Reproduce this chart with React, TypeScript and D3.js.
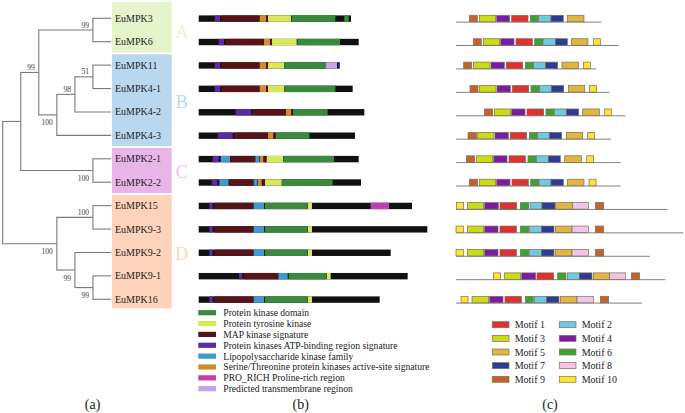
import React from 'react';
import * as d3 from 'd3';

const W = 685;
const H = 413;
const FONT = "'Liberation Serif', 'Times New Roman', Times, serif";

// ---------- data ----------
const genes = ['EuMPK3', 'EuMPK6', 'EuMPK11', 'EuMPK4-1', 'EuMPK4-2', 'EuMPK4-3', 'EuMPK2-1', 'EuMPK2-2', 'EuMPK15', 'EuMPK9-3', 'EuMPK9-2', 'EuMPK9-1', 'EuMPK16'];

// tree: flat node table (h = node depth level, s = bootstrap support)
const treeNodes = [
  { id: 'root', parent: null, h: 0 },
  { id: 'ABC', parent: 'root', h: 1 },
  { id: 'AB', parent: 'ABC', h: 2, s: 99, pos: 'above' },
  { id: 'nA', parent: 'AB', h: 5, s: 99, pos: 'above' },
  { id: 'EuMPK3', parent: 'nA', h: 6 },
  { id: 'EuMPK6', parent: 'nA', h: 6 },
  { id: 'nB', parent: 'AB', h: 3, s: 100, pos: 'below' },
  { id: 'nB1', parent: 'nB', h: 4, s: 98, pos: 'above' },
  { id: 'nB2', parent: 'nB1', h: 5, s: 51, pos: 'above' },
  { id: 'EuMPK11', parent: 'nB2', h: 6 },
  { id: 'EuMPK4-1', parent: 'nB2', h: 6 },
  { id: 'EuMPK4-2', parent: 'nB1', h: 6 },
  { id: 'EuMPK4-3', parent: 'nB', h: 6 },
  { id: 'nC', parent: 'ABC', h: 5, s: 100, pos: 'below' },
  { id: 'EuMPK2-1', parent: 'nC', h: 6 },
  { id: 'EuMPK2-2', parent: 'nC', h: 6 },
  { id: 'nD', parent: 'root', h: 3, s: 100, pos: 'below' },
  { id: 'nD1', parent: 'nD', h: 5, s: 100, pos: 'above' },
  { id: 'EuMPK15', parent: 'nD1', h: 6 },
  { id: 'EuMPK9-3', parent: 'nD1', h: 6 },
  { id: 'nD2', parent: 'nD', h: 4, s: 99, pos: 'below' },
  { id: 'EuMPK9-2', parent: 'nD2', h: 6 },
  { id: 'nD3', parent: 'nD2', h: 5, s: 99, pos: 'below' },
  { id: 'EuMPK9-1', parent: 'nD3', h: 6 },
  { id: 'EuMPK16', parent: 'nD3', h: 6 },
];

const groupNames = ['A', 'B', 'C', 'D'];
const groupFirst = [0, 2, 6, 8];
const groupLast = [1, 5, 7, 12];

// protein domains (b)
const proteinLength = [457, 480, 423, 462, 497, 469, 480, 487, 640, 686, 576, 627, 543];
const proteinDomains: [string, number, number][][] = [
  [['ATP', 48, 64], ['MAP', 68, 182], ['ST', 183, 202], ['MAP', 202, 207], ['PTK', 208, 277], ['PK', 279, 410], ['PK', 437, 450]],
  [['ATP', 60, 76], ['MAP', 81, 195], ['ST', 196, 214], ['MAP', 214, 219], ['PTK', 220, 294], ['PK', 296, 424]],
  [['ATP', 48, 64], ['MAP', 68, 182], ['ST', 183, 202], ['MAP', 202, 207], ['PTK', 208, 257], ['PK', 259, 382], ['TM', 382, 415], ['ATP', 419, 423]],
  [['ATP', 48, 64], ['MAP', 68, 182], ['ST', 183, 202], ['MAP', 202, 207], ['PTK', 208, 257], ['PK', 259, 410]],
  [['ATP', 111, 157], ['MAP', 160, 262], ['ST', 262, 277], ['MAP', 277, 281], ['PK', 283, 387]],
  [['ATP', 57, 102], ['MAP', 106, 207], ['ST', 208, 224], ['MAP', 224, 229], ['PK', 231, 332]],
  [['ATP', 42, 60], ['LPS', 66, 94], ['MAP', 94, 170], ['LPS', 170, 181], ['ST', 183, 194], ['MAP', 196, 202], ['PTK', 204, 253], ['PK', 254, 406]],
  [['ATP', 39, 56], ['LPS', 62, 90], ['MAP', 90, 165], ['LPS', 165, 176], ['ST', 178, 189], ['MAP', 192, 198], ['PTK', 199, 249], ['PK', 250, 402]],
  [['ATP', 32, 42], ['MAP', 47, 165], ['LPS', 165, 196], ['PK', 199, 325], ['PTK', 327, 340], ['PRO', 516, 571]],
  [['ATP', 32, 42], ['MAP', 47, 165], ['LPS', 165, 196], ['PK', 199, 325], ['PTK', 327, 340]],
  [['ATP', 32, 42], ['MAP', 47, 165], ['LPS', 165, 196], ['PK', 199, 325], ['PTK', 327, 340]],
  [['ATP', 121, 131], ['MAP', 135, 239], ['LPS', 239, 267], ['PK', 270, 382], ['PTK', 384, 396]],
  [['ATP', 32, 42], ['MAP', 47, 165], ['LPS', 165, 196], ['PK', 199, 325], ['PTK', 327, 340]],
];
const domainKeys = ['PK', 'PTK', 'MAP', 'ATP', 'LPS', 'ST', 'PRO', 'TM'];
const domainLabels = [
  'Protein kinase domain',
  'Protein tyrosine kinase',
  'MAP kinase signature',
  'Protein kinases ATP-binding region signature',
  'Lipopolysaccharide kinase family',
  'Serine/Threonine protein kinases active-site signature',
  'PRO_RICH Proline-rich region',
  'Predicted transmembrane reginon',
];

// conserved motifs (c)
const motifLineLength = [436, 488, 421, 461, 508, 465, 494, 494, 634, 682, 582, 628, 558];
const motifs: [number, number, number][][] = [
  [[9, 40, 64], [3, 70, 119], [4, 122, 161], [1, 167, 216], [6, 223, 248], [2, 248, 285], [7, 285, 322], [5, 334, 384]],
  [[9, 52, 76], [3, 82, 131], [4, 134, 174], [1, 180, 229], [6, 236, 261], [2, 261, 298], [7, 298, 334], [5, 346, 396], [10, 412, 433]],
  [[9, 23, 47], [3, 52, 102], [4, 105, 145], [1, 151, 200], [6, 208, 233], [2, 233, 269], [7, 269, 305], [5, 318, 367], [10, 382, 403]],
  [[9, 42, 66], [3, 71, 120], [4, 123, 163], [1, 169, 218], [6, 225, 250], [2, 250, 286], [7, 286, 323], [5, 337, 386], [10, 400, 421]],
  [[9, 85, 110], [3, 115, 164], [4, 167, 207], [1, 213, 263], [6, 270, 295], [2, 295, 331], [7, 331, 368], [5, 380, 430], [10, 445, 466]],
  [[9, 36, 61], [3, 65, 114], [4, 117, 157], [1, 163, 212], [6, 220, 244], [2, 244, 280], [7, 280, 317], [5, 331, 380], [10, 395, 415]],
  [[9, 31, 56], [3, 61, 110], [4, 113, 153], [1, 159, 208], [6, 216, 241], [2, 241, 277], [7, 277, 313], [5, 326, 376], [10, 392, 413]],
  [[9, 40, 65], [3, 70, 119], [4, 122, 162], [1, 168, 217], [6, 224, 249], [2, 249, 285], [7, 285, 322], [5, 334, 384], [10, 399, 420]],
  [[10, 1, 23], [3, 34, 83], [4, 86, 127], [1, 132, 182], [6, 193, 218], [2, 222, 258], [7, 258, 297], [5, 299, 349], [8, 349, 397], [9, 418, 443]],
  [[10, 0, 22], [3, 34, 83], [4, 86, 126], [1, 132, 181], [6, 193, 218], [2, 220, 257], [7, 257, 294], [5, 298, 348], [8, 348, 397], [9, 418, 443]],
  [[10, 0, 22], [3, 34, 83], [4, 86, 126], [1, 132, 181], [6, 193, 218], [2, 220, 257], [7, 257, 294], [5, 298, 348], [8, 348, 397], [9, 418, 443]],
  [[10, 112, 134], [3, 145, 194], [4, 197, 239], [1, 243, 293], [6, 305, 330], [2, 334, 370], [7, 370, 408], [5, 412, 461], [8, 461, 509], [9, 526, 551]],
  [[10, 15, 36], [3, 48, 98], [4, 101, 141], [1, 147, 196], [6, 208, 232], [2, 235, 272], [7, 272, 309], [5, 313, 363], [8, 363, 412], [9, 433, 458]],
];
const motifNumbers = [1, 2, 3, 4, 5, 6, 7, 8, 9, 10];

// ---------- styles ----------
const groupFill: Record<string, string> = { A: '#e4f4cb', B: '#b9d8f0', C: '#e9b5e9', D: '#fdd4ba' };
const groupText: Record<string, string> = { A: '#e6f4cf', B: '#bcd8ef', C: '#f0c0ec', D: '#fdd6c0' };
const domainColor: Record<string, string> = {
  PK: '#3a8a3e', PTK: '#d8e85a', MAP: '#561417', ATP: '#5a2aa8',
  LPS: '#3c9bd2', ST: '#d98a2a', PRO: '#c23cb4', TM: '#c9a4e8',
};
const motifColor: Record<number, string> = {
  1: '#e03030', 2: '#6ccbe4', 3: '#cadc14', 4: '#7a1aa6', 5: '#e2b440',
  6: '#3aa432', 7: '#2c3a98', 8: '#f2c4ea', 9: '#c4622a', 10: '#ffe234',
};
const txt = { fontFamily: FONT };

export default function App() {
  const y = d3.scaleLinear().domain([0, genes.length - 1]).range([18.3, 299.3]);
  const xTree = d3.scaleLinear().domain([0, 6]).range([2.7, 111]);
  const xDom = d3.scaleLinear().domain([0, 700]).range([198.7, 432]);
  const xMot = d3.scaleLinear().domain([0, 690]).range([456, 686]);

  const root = d3.stratify<any>().id((d: any) => d.id).parentId((d: any) => d.parent)(treeNodes);
  root.eachAfter((n: any) => {
    if (n.children) {
      n.py = (n.children[0].py + n.children[n.children.length - 1].py) / 2;
    } else {
      n.py = y(genes.indexOf(n.id));
    }
    n.px = xTree(n.data.h);
  });

  const treeLines: any[] = [];
  const supportLabels: any[] = [];
  root.each((n: any) => {
    if (n.parent) {
      treeLines.push(<line key={'h' + n.id} x1={n.parent.px} x2={n.px} y1={n.py} y2={n.py} />);
    }
    if (n.children) {
      const c0 = n.children[0];
      const c1 = n.children[n.children.length - 1];
      treeLines.push(<line key={'v' + n.id} x1={n.px} x2={n.px} y1={c0.py - 0.5} y2={c1.py + 0.5} />);
    }
    if (n.data.s !== undefined) {
      supportLabels.push(
        <text key={'s' + n.id} x={n.px - 4} y={n.data.pos === 'above' ? n.py - 2.5 : n.py + 10.5} textAnchor="end" fill="#3a3a3a" fontSize={7.5} style={txt}>
          {n.data.s}
        </text>
      );
    }
  });

  const boxes = groupNames.map((g, i) => {
    const top = i === 0 ? 2 : (y(groupFirst[i]) + y(groupFirst[i] - 1)) / 2 + 0.9;
    const bottom = i === groupNames.length - 1 ? y(groupLast[i]) + 9 : (y(groupLast[i]) + y(groupLast[i] + 1)) / 2 - 0.9;
    return { g, top, bottom, mid: (y(groupFirst[i]) + y(groupLast[i])) / 2 };
  });

  const barH = 6.4;
  const legendY = d3.scaleLinear().domain([0, 7]).range([312.7, 388.7]);
  const motifLegendY = d3.scaleLinear().domain([0, 4]).range([324.7, 379.3]);

  return (
    <svg width={W} height={H} style={{ position: 'absolute', left: 0, top: 0, background: '#fff', fontFamily: FONT }}>
      <rect x={0} y={0} width={W} height={H} fill="#fff" />
      {/* group boxes */}
      {boxes.map((b) => (
        <g key={b.g}>
          <rect x={112} y={b.top} width={59.7} height={b.bottom - b.top} fill={groupFill[b.g]} />
          <text x={181.7} y={b.mid + 1.5} fontSize={18} fill={groupText[b.g]} textAnchor="middle" dominantBaseline="central" style={txt}>{b.g}</text>
        </g>
      ))}
      {/* tree */}
      <g stroke="#7a7a7a" strokeWidth={1.1} fill="none">{treeLines}</g>
      <g>{supportLabels}</g>
      {genes.map((g, i) => (
        <text key={g} x={115} y={y(i)} fontSize={10} fill="#222" dominantBaseline="central" style={txt}>{g}</text>
      ))}

      {/* domains */}
      {genes.map((g, i) => (
        <g key={'d' + g}>
          <rect x={xDom(0)} y={y(i) + 0.3 - barH / 2} width={xDom(proteinLength[i]) - xDom(0)} height={barH} fill="#111" />
          {proteinDomains[i].map(([t, s, e], j) => (
            <rect key={j} x={xDom(s)} y={y(i) + 0.3 - barH / 2} width={xDom(e) - xDom(s)} height={barH} fill={domainColor[t]} />
          ))}
        </g>
      ))}
      {domainKeys.map((k, i) => (
        <g key={'dl' + k}>
          <rect x={198.3} y={legendY(i) - 2.6} width={17.7} height={5.2} fill={domainColor[k]} />
          <text x={223.3} y={legendY(i)} fontSize={9.6} fill="#222" dominantBaseline="central" style={txt}>{domainLabels[i]}</text>
        </g>
      ))}

      {/* motifs */}
      {genes.map((g, i) => {
        const ly = y(i) + 3.8;
        return (
          <g key={'m' + g}>
            <line x1={xMot(0)} x2={xMot(motifLineLength[i])} y1={ly} y2={ly} stroke="#808080" strokeWidth={1} />
            {motifs[i].map(([m, s, e], j) => (
              <rect key={j} x={xMot(s)} y={ly - 6.8} width={xMot(e) - xMot(s)} height={6.5} fill={motifColor[m]} stroke="#7d6e58" strokeWidth={0.7} />
            ))}
          </g>
        );
      })}
      {motifNumbers.map((m, i) => {
        const col = i % 2;
        const row = Math.floor(i / 2);
        const sx = col === 0 ? 492.3 : 559.3;
        return (
          <g key={'ml' + m}>
            <rect x={sx} y={motifLegendY(row) - 3} width={16.7} height={6} fill={motifColor[m]} stroke="#7d6e58" strokeWidth={0.7} />
            <text x={sx + 22.4} y={motifLegendY(row)} fontSize={10} fill="#222" dominantBaseline="central" style={txt}>{'Motif ' + m}</text>
          </g>
        );
      })}

      {/* panel labels */}
      <text x={92.6} y={409} fontSize={14} textAnchor="middle" fill="#222" style={txt}>(a)</text>
      <text x={300.7} y={409} fontSize={14} textAnchor="middle" fill="#222" style={txt}>(b)</text>
      <text x={550} y={409} fontSize={14} textAnchor="middle" fill="#222" style={txt}>(c)</text>
    </svg>
  );
}
